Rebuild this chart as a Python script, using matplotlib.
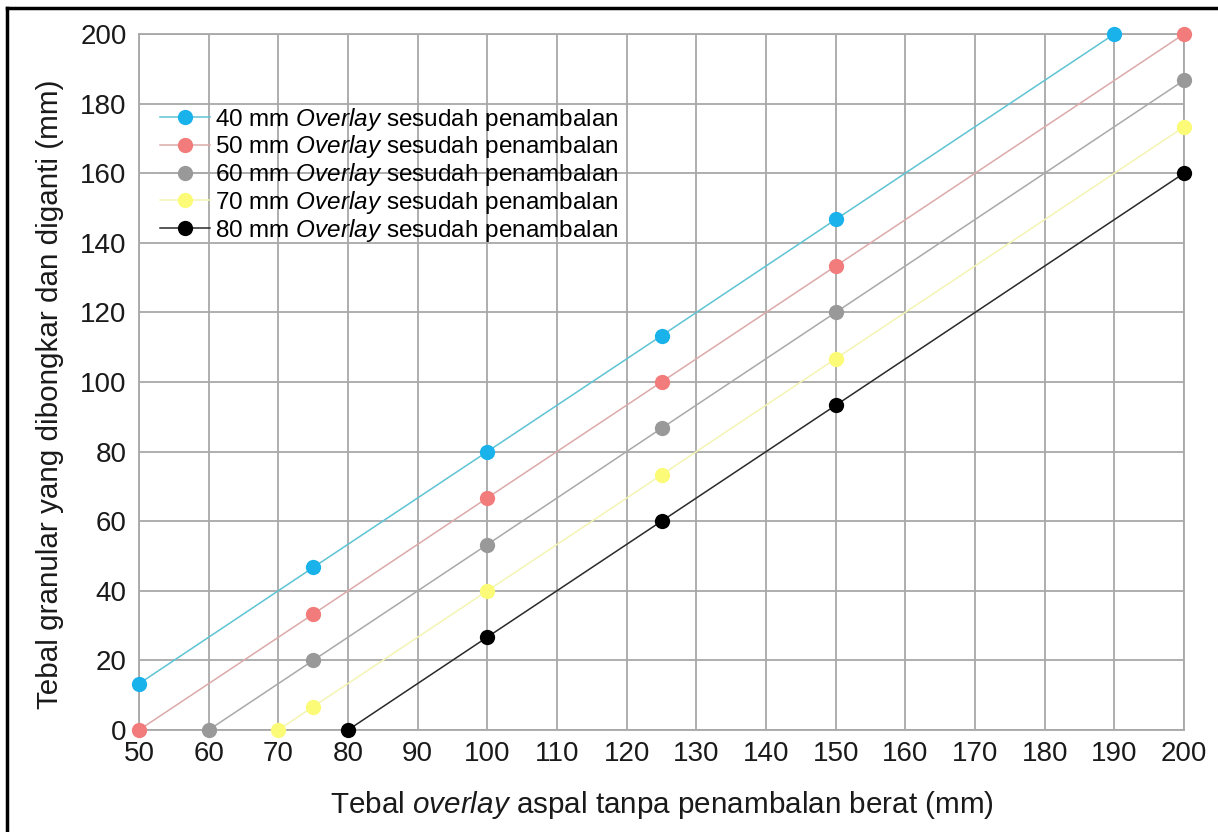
import matplotlib
matplotlib.use("Agg")
import matplotlib.pyplot as plt
from matplotlib.lines import Line2D

plt.rcParams["font.family"] = ["Liberation Sans", "DejaVu Sans"]
plt.rcParams["mathtext.fontset"] = "custom"
plt.rcParams["mathtext.rm"] = "Liberation Sans"
plt.rcParams["mathtext.it"] = "Liberation Sans:italic"

# Tebal overlay aspal tanpa penambalan berat (mm) and the matching removed granular thickness
x_40 = [50, 75, 100, 125, 150, 190]
y_40 = [13.3, 46.7, 80.0, 113.3, 146.7, 200.0]

x_50 = [50, 75, 100, 125, 150, 200]
y_50 = [0.0, 33.3, 66.7, 100.0, 133.3, 200.0]

x_60 = [60, 75, 100, 125, 150, 200]
y_60 = [0.0, 20.0, 53.3, 86.7, 120.0, 186.7]

x_70 = [70, 75, 100, 125, 150, 200]
y_70 = [0.0, 6.7, 40.0, 73.3, 106.7, 173.3]

x_80 = [80, 100, 125, 150, 200]
y_80 = [0.0, 26.7, 60.0, 93.3, 160.0]

labels = [
    r"40 mm $\mathit{Overlay}$ sesudah penambalan",
    r"50 mm $\mathit{Overlay}$ sesudah penambalan",
    r"60 mm $\mathit{Overlay}$ sesudah penambalan",
    r"70 mm $\mathit{Overlay}$ sesudah penambalan",
    r"80 mm $\mathit{Overlay}$ sesudah penambalan",
]
x_ticks = list(range(50, 201, 10))
y_ticks = list(range(0, 201, 20))

series = [(x_40, y_40), (x_50, y_50), (x_60, y_60), (x_70, y_70), (x_80, y_80)]
line_colors = ["#5ec3d3", "#dcaaaa", "#a9a9a9", "#f4f4b4", "#2a2a2a"]
marker_colors = ["#1ab2ea", "#f27b7b", "#999999", "#fbfb78", "#000000"]

fig = plt.figure(figsize=(12.18, 8.32), dpi=100)
ax = fig.add_axes([139 / 1218, 1 - 730 / 832, (1184 - 139) / 1218, (730 - 34) / 832])

for (xs, ys), lc, mc, lab in zip(series, line_colors, marker_colors, labels):
    ax.plot(xs, ys, color=lc, lw=1.1, zorder=3, label=lab,
            marker="o", markersize=11, markerfacecolor=mc,
            markeredgewidth=0, clip_on=False)

ax.set_xlim(50, 200)
ax.set_ylim(0, 200)
ax.set_xticks(x_ticks)
ax.set_yticks(y_ticks)
ax.grid(True, color="#a8a8a8", lw=1.3, zorder=0)
ax.set_axisbelow(True)
for sp in ax.spines.values():
    sp.set_color("#a8a8a8")
    sp.set_linewidth(1.3)
ax.tick_params(length=0, labelsize=20, colors="#1a1a1a")
ax.tick_params(axis="x", pad=8)
ax.tick_params(axis="y", pad=9)

ax.set_xlabel(r"Tebal $\mathit{overlay}$ aspal tanpa penambalan berat (mm)",
              fontsize=21.3, color="#1a1a1a", labelpad=16)
ax.set_ylabel("Tebal granular yang dibongkar dan diganti (mm)",
              fontsize=21.3, color="#1a1a1a")
ax.yaxis.set_label_coords(-0.072, 0.482)

ax.legend(loc="upper left", bbox_to_anchor=(0.02, 0.897), frameon=False,
          fontsize=17.5, handlelength=2.05, handletextpad=0.2,
          labelspacing=0.03, borderaxespad=0.0, borderpad=0.0)

# outer frame (left and top edges)
fig.add_artist(Line2D([7 / 1218, 7 / 1218], [0, 1 - 8 / 832],
                      transform=fig.transFigure, color="black", lw=2.5))
fig.add_artist(Line2D([7 / 1218, 1], [1 - 8 / 832, 1 - 8 / 832],
                      transform=fig.transFigure, color="black", lw=2.5))

fig.savefig("out.png", dpi=100, facecolor="white")
